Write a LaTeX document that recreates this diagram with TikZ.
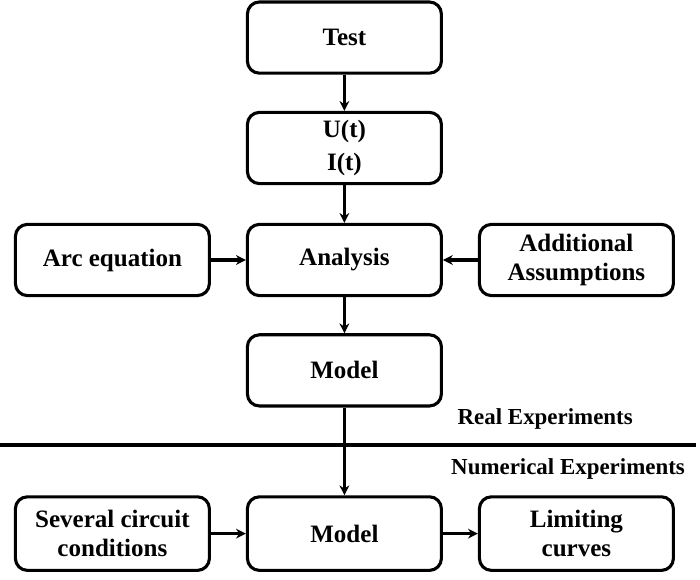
\documentclass[tikz,border=0pt]{standalone}
\usepackage{fontspec}
\setmainfont{Liberation Serif}
\usetikzlibrary{arrows.meta}
\begin{document}
\begin{tikzpicture}[
        blk/.style={draw, line width=2.2pt, rounded corners=0.3cm, minimum width=4.85cm, minimum height=1.78cm, align=center, font=\fontsize{17.8}{20.5}\selectfont\bfseries},
        arr/.style={line width=2.2pt, -{Stealth[length=7pt, width=7pt]}},
        lbl/.style={font=\fontsize{16.3}{19}\selectfont\bfseries}
    ]
        \useasboundingbox (0, 0) rectangle (17.5, 14.5);
        \node[blk] (test) at (8.61, 13.56) {Test};
        \node[blk] (ui) at (8.61, 10.8) {U(t)\\[3pt]I(t)};
        \node[blk] (analysis) at (8.61, 8.0) {Analysis};
        \node[blk] (arc) at (2.81, 8.0) {Arc equation};
        \node[blk] (assume) at (14.41, 8.0) {Additional\\Assumptions};
        \node[blk] (model) at (8.61, 5.24) {Model};
        \node[blk, minimum height=1.84cm] (several) at (2.81, 1.16) {Several circuit\\conditions};
        \node[blk, minimum height=1.84cm] (nummodel) at (8.61, 1.16) {Model};
        \node[blk, minimum height=1.84cm] (curves) at (14.41, 1.16) {Limiting\\curves};
        \draw[line width=2.8pt] (0, 3.375) -- (17.4, 3.375);
        \node[lbl] (real) at (13.63, 4.03) {Real Experiments};
        \node[lbl] (numerical) at (14.2, 2.78) {Numerical Experiments};
        \draw[arr] (test) -- (ui);
        \draw[arr] (ui) -- (analysis);
        \draw[arr] (arc) -- (analysis);
        \draw[arr] (assume) -- (analysis);
        \draw[arr] (analysis) -- (model);
        \draw[arr] (model) -- (nummodel);
        \draw[arr] (several) -- (nummodel);
        \draw[arr] (nummodel) -- (curves);
    \end{tikzpicture}
\end{document}
